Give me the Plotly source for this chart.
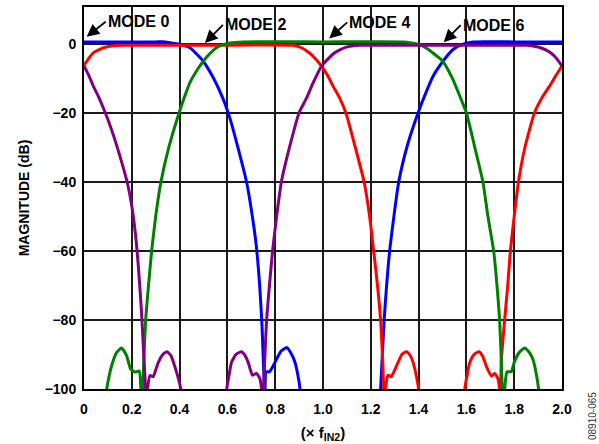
import plotly.graph_objects as go

# ── Data (frequency in x f_IN2, magnitude in dB) ─────────────────────────────
# None breaks a trace where the response dips below the -100 dB floor.
MODE0_F = [0, 0.1, 0.2, 0.3, 0.34, 0.37, 0.40, 0.443, 0.471, 0.499, 0.541, 0.582,
           0.61, 0.64, 0.68, 0.70, 0.72, 0.735, 0.745, 0.752, 0.757,
           0.762, 0.776, 0.79, 0.806, 0.825, 0.848, 0.865, 0.883, 0.895, 0.904, 0.908,
           None,
           1.238, 1.241, 1.256, 1.279, 1.317, 1.355, 1.398, 1.42, 1.46, 1.502, 1.544,
           1.58, 1.628, 1.8, 2.0]
MODE0_DB = [0.5, 0.5, 0.5, 0.5, 0.5, 0.1, -0.2, -1.2, -3.0, -5.1, -9.9, -16,
            -21.5, -29, -40, -48, -58, -70, -82, -95, -103,
            -95, -95, -93.5, -91.3, -89, -88, -89.5, -92.3, -96, -100, -103,
            None,
            -103, -100, -80, -60, -40, -29, -20, -16, -9.5, -5.1, -1.7,
            -0.3, 0.5, 0.5, 0.5]

MODE2_F = [0, 0.02, 0.039, 0.081, 0.123, 0.165, 0.5, 0.875, 0.91, 0.945, 0.97, 0.994,
           1.02, 1.042, 1.07, 1.098, 1.135, 1.172, 1.195, 1.212, 1.228, 1.241, 1.25, 1.256,
           1.261, 1.272, 1.286, 1.3, 1.314, 1.33, 1.349, 1.365, 1.377, 1.39, 1.40, 1.404,
           None,
           1.589, 1.593, 1.603, 1.614, 1.632, 1.653, 1.668, 1.684, 1.705, 1.718, 1.732,
           1.739, 1.742, 1.746, 1.76, 1.773, 1.784, 1.80, 1.818, 1.845, 1.885, 1.915,
           1.948, 1.975, 2.0]
MODE2_DB = [-6.3, -4.3, -2.7, -1.2, -0.6, -0.5, -0.5, -0.5, -1.2, -2.8, -4.5, -6.5,
            -9.3, -12.3, -15.8, -20.5, -30, -40, -50, -60, -70, -80, -92, -103,
            -100, -96, -96.4, -94.5, -92.3, -90, -89.2, -90.3, -92.3, -96, -100, -103,
            None,
            -103, -100, -96, -92.3, -90, -89.2, -90.5, -93.5, -96.2, -95.5, -97,
            -100, -103, -92, -80, -70, -60, -50, -40, -30, -20, -15.8,
            -12.3, -9.2, -6.5]

MODE4_F = [0.09, 0.095, 0.116, 0.137, 0.157, 0.178, 0.195, 0.213, 0.231, 0.238, 0.242,
           0.246, 0.25, 0.258, 0.27, 0.283, 0.30, 0.322, 0.355, 0.398, 0.42, 0.443,
           0.47, 0.499, 0.525, 0.554, 0.585, 0.61, 0.666, 1.0, 1.335, 1.37, 1.405,
           1.435, 1.46, 1.482, 1.502, 1.52, 1.544, 1.57, 1.60, 1.635, 1.669, 1.69,
           1.714, 1.728, 1.739, 1.745, 1.75, 1.753,
           1.76, 1.77, 1.788, 1.80, 1.82, 1.844, 1.862, 1.878, 1.892, 1.902, 1.906]
MODE4_DB = [-103, -100, -93.2, -89.4, -88.1, -90.3, -94.2, -95.1, -94.8, -100, -104,
            -100, -92, -80, -70, -60, -50, -40, -30, -20, -15.5, -11.3,
            -8, -5.1, -3, -1.2, -0.2, 0.2, 0.5, 0.5, 0.5, 0.2, -0.3,
            -1.4, -2.7, -3.9, -5.1, -7.2, -10.4, -14.8, -20, -30, -40, -50,
            -60, -70, -80, -90, -100, -104,
            -100, -95, -95, -92.3, -89.5, -88.1, -89.3, -91.3, -95.5, -100, -103]

MODE6_F = [0, 0.02, 0.039, 0.06, 0.08, 0.10, 0.123, 0.15, 0.182, 0.20, 0.215, 0.228,
           0.24, 0.25, 0.258, 0.262, 0.266, 0.276, 0.29, 0.30, 0.311, 0.33, 0.348, 0.365,
           0.38, 0.395, 0.405, 0.41,
           None,
           0.592, 0.597, 0.607, 0.617, 0.636, 0.659, 0.673, 0.687, 0.705, 0.722, 0.736,
           0.743, 0.747, 0.752, 0.756, 0.764, 0.776, 0.789, 0.806, 0.826, 0.86, 0.90,
           0.931, 0.959, 0.994, 1.02, 1.042, 1.07, 1.098, 1.13, 1.154, 1.5, 1.85,
           1.878, 1.91, 1.934, 1.955, 1.976, 2.0]
MODE6_DB = [-6.5, -9.2, -12.3, -15.3, -18.5, -22, -26.5, -32.5, -40.5, -47, -55, -65,
            -77, -90, -100, -104, -100, -96.1, -96.4, -94.5, -92.3, -90, -89.2, -90.5,
            -93.5, -97, -100, -103,
            None,
            -103, -100, -96, -92.3, -90, -89.2, -90.2, -92.3, -96, -95.5, -97,
            -100, -104, -100, -92, -80, -70, -60, -50, -40, -30, -20,
            -15.8, -11.3, -6.5, -4.5, -3.0, -1.8, -1.0, -0.6, -0.5, -0.5, -0.5,
            -0.7, -1.2, -1.9, -2.8, -4.2, -6.5]

SERIES = [
    ("MODE 0", MODE0_F, MODE0_DB, "#0000FF"),
    ("MODE 2", MODE2_F, MODE2_DB, "#FF0000"),
    ("MODE 4", MODE4_F, MODE4_DB, "#008000"),
    ("MODE 6", MODE6_F, MODE6_DB, "#800080"),
]

X_TICKS = [0, 0.2, 0.4, 0.6, 0.8, 1.0, 1.2, 1.4, 1.6, 1.8, 2.0]
X_TICK_TEXT = ["0", "0.2", "0.4", "0.6", "0.8", "1.0", "1.2", "1.4", "1.6", "1.8", "2.0"]
Y_TICKS = [0, -20, -40, -60, -80, -100]
Y_TICK_TEXT = ["0", "\u221220", "\u221240", "\u221260", "\u221280", "\u2212100"]

FONT = "Liberation Sans, Arial, Helvetica, sans-serif"

fig = go.Figure()
for name, f, db, color in SERIES:
    fig.add_trace(go.Scatter(
        x=f, y=db, mode="lines", name=name,
        line=dict(color=color, width=3, shape="spline", smoothing=0.5),
        connectgaps=False,
    ))

# mode labels: arrow tip (x, y in data) and tail offset in px; text starts at the tail
labels = [
    ("MODE 0", 0.011, 2.0, 19, -15),
    ("MODE 2", 0.506, 0.2, 18, -18),
    ("MODE 4", 1.026, 1.5, 18, -16),
    ("MODE 6", 1.505, 0.4, 17, -17),
]
annotations = []
for text, tx, ty, dx, dy in labels:
    annotations.append(dict(x=tx, y=ty, ax=dx, ay=dy, text=text, showarrow=True,
                            xanchor="left", yanchor="middle",
                            arrowhead=2, arrowsize=1.4, arrowwidth=1.8,
                            arrowcolor="black",
                            font=dict(family=FONT, size=16, color="black",
                                      weight="bold")))
annotations.append(dict(xref="paper", yref="paper", x=1.0, y=0, xshift=30, yshift=-27,
                        text="08910-065", showarrow=False, textangle=-90,
                        xanchor="center", yanchor="middle",
                        font=dict(family=FONT, size=10, color="#333333")))

axis_common = dict(showgrid=True, gridcolor="#1a1a1a", gridwidth=1.5,
                   showline=True, linecolor="black", linewidth=2, mirror=True,
                   zeroline=False, ticks="", automargin=False,
                   tickfont=dict(family=FONT, size=14, color="black", weight="bold"))

fig.update_layout(
    width=599, height=444,
    margin=dict(l=84, r=37, t=7, b=55),
    plot_bgcolor="white", paper_bgcolor="white",
    showlegend=False,
    xaxis=dict(range=[0, 2.0], tickvals=X_TICKS, ticktext=X_TICK_TEXT,
               ticklabelstandoff=6,
               title=dict(text="(\u00d7 f<sub>IN2</sub>)", standoff=12,
                          font=dict(family=FONT, size=15, color="black", weight="bold")),
               **axis_common),
    yaxis=dict(range=[-100, 10.6], tickvals=Y_TICKS, ticktext=Y_TICK_TEXT,
               ticklabelstandoff=3,
               title=dict(text="MAGNITUDE (dB)", standoff=12,
                          font=dict(family=FONT, size=14, color="black", weight="bold")),
               **axis_common),
    annotations=annotations,
)

fig.write_html("out.html", config={"displayModeBar": False},
               post_script="document.body.style.margin='0';")
